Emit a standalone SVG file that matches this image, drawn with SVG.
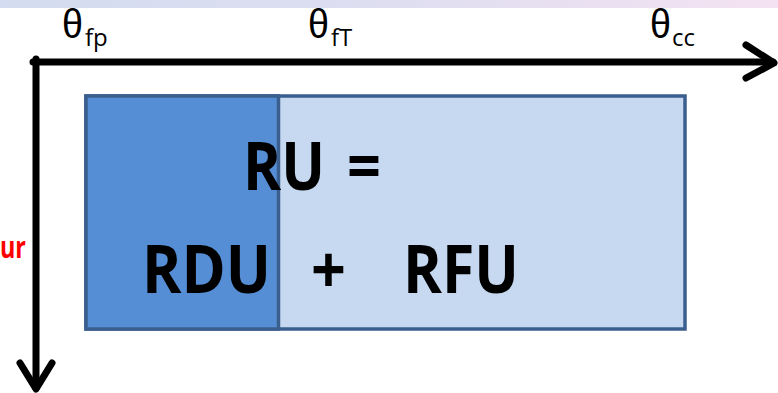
<svg xmlns="http://www.w3.org/2000/svg" width="778" height="393" viewBox="0 0 778 393">
<defs>
<linearGradient id="band" x1="0" y1="0" x2="1" y2="0">
<stop offset="0" stop-color="#D3DCF0"/>
<stop offset="0.5" stop-color="#DEDEF0"/>
<stop offset="1" stop-color="#F4E2F2"/>
</linearGradient>
<style>
.axis{stroke:#000;stroke-width:7;fill:none;stroke-linecap:round;stroke-linejoin:round}
.th{font-family:"Liberation Sans",Arial,sans-serif;font-size:40px;fill:#000}
.sub{font-family:"Open Sans","Liberation Sans",sans-serif;font-size:24px;fill:#000}
.big{font-family:"Open Sans",Lato,sans-serif;font-weight:bold;font-size:66px;fill:#000}
.box{stroke:#3A5F8E;stroke-width:3.5}
</style>
</defs>
<rect x="0" y="0" width="778" height="8" fill="url(#band)"/>
<g id="label-fp"><text class="th" x="62" y="38" textLength="21" lengthAdjust="spacingAndGlyphs">θ</text><text class="sub" x="85" y="46">fp</text></g>
<g id="label-fT"><text class="th" x="308" y="38" textLength="21" lengthAdjust="spacingAndGlyphs">θ</text><text class="sub" x="331" y="46">fT</text></g>
<g id="label-cc"><text class="th" x="650" y="38" textLength="21" lengthAdjust="spacingAndGlyphs">θ</text><text class="sub" x="672" y="46">cc</text></g>
<g id="connectors">
<path class="axis" d="M33 62 H773" stroke-linecap="butt"/>
<path class="axis" d="M746 45 L774 63 L746 78"/>
<path class="axis" d="M36 59 V388" stroke-linecap="butt"/>
<path class="axis" d="M20 363 L36 389 L52 363"/>
</g>
<g id="label-ur"><text x="0" y="258" textLength="26" lengthAdjust="spacingAndGlyphs" style="font-family:'Open Sans',sans-serif;font-weight:bold;font-size:30px;fill:#FF0000">ur</text></g>
<g id="ru-box">
<rect class="box" x="86" y="96" width="599" height="233" fill="#C6D9F1"/>
<rect class="box" x="86" y="96" width="192.5" height="233" fill="#558ED5"/>
<text class="big" x="243" y="190" textLength="82" lengthAdjust="spacingAndGlyphs">RU</text>
<text class="big" x="347" y="190" textLength="34" lengthAdjust="spacingAndGlyphs">=</text>
<text class="big" x="142" y="293" textLength="129" lengthAdjust="spacingAndGlyphs">RDU</text>
<text class="big" x="311" y="293" textLength="35" lengthAdjust="spacingAndGlyphs">+</text>
<text class="big" x="403" y="293" textLength="116" lengthAdjust="spacingAndGlyphs">RFU</text>
</g>
</svg>
